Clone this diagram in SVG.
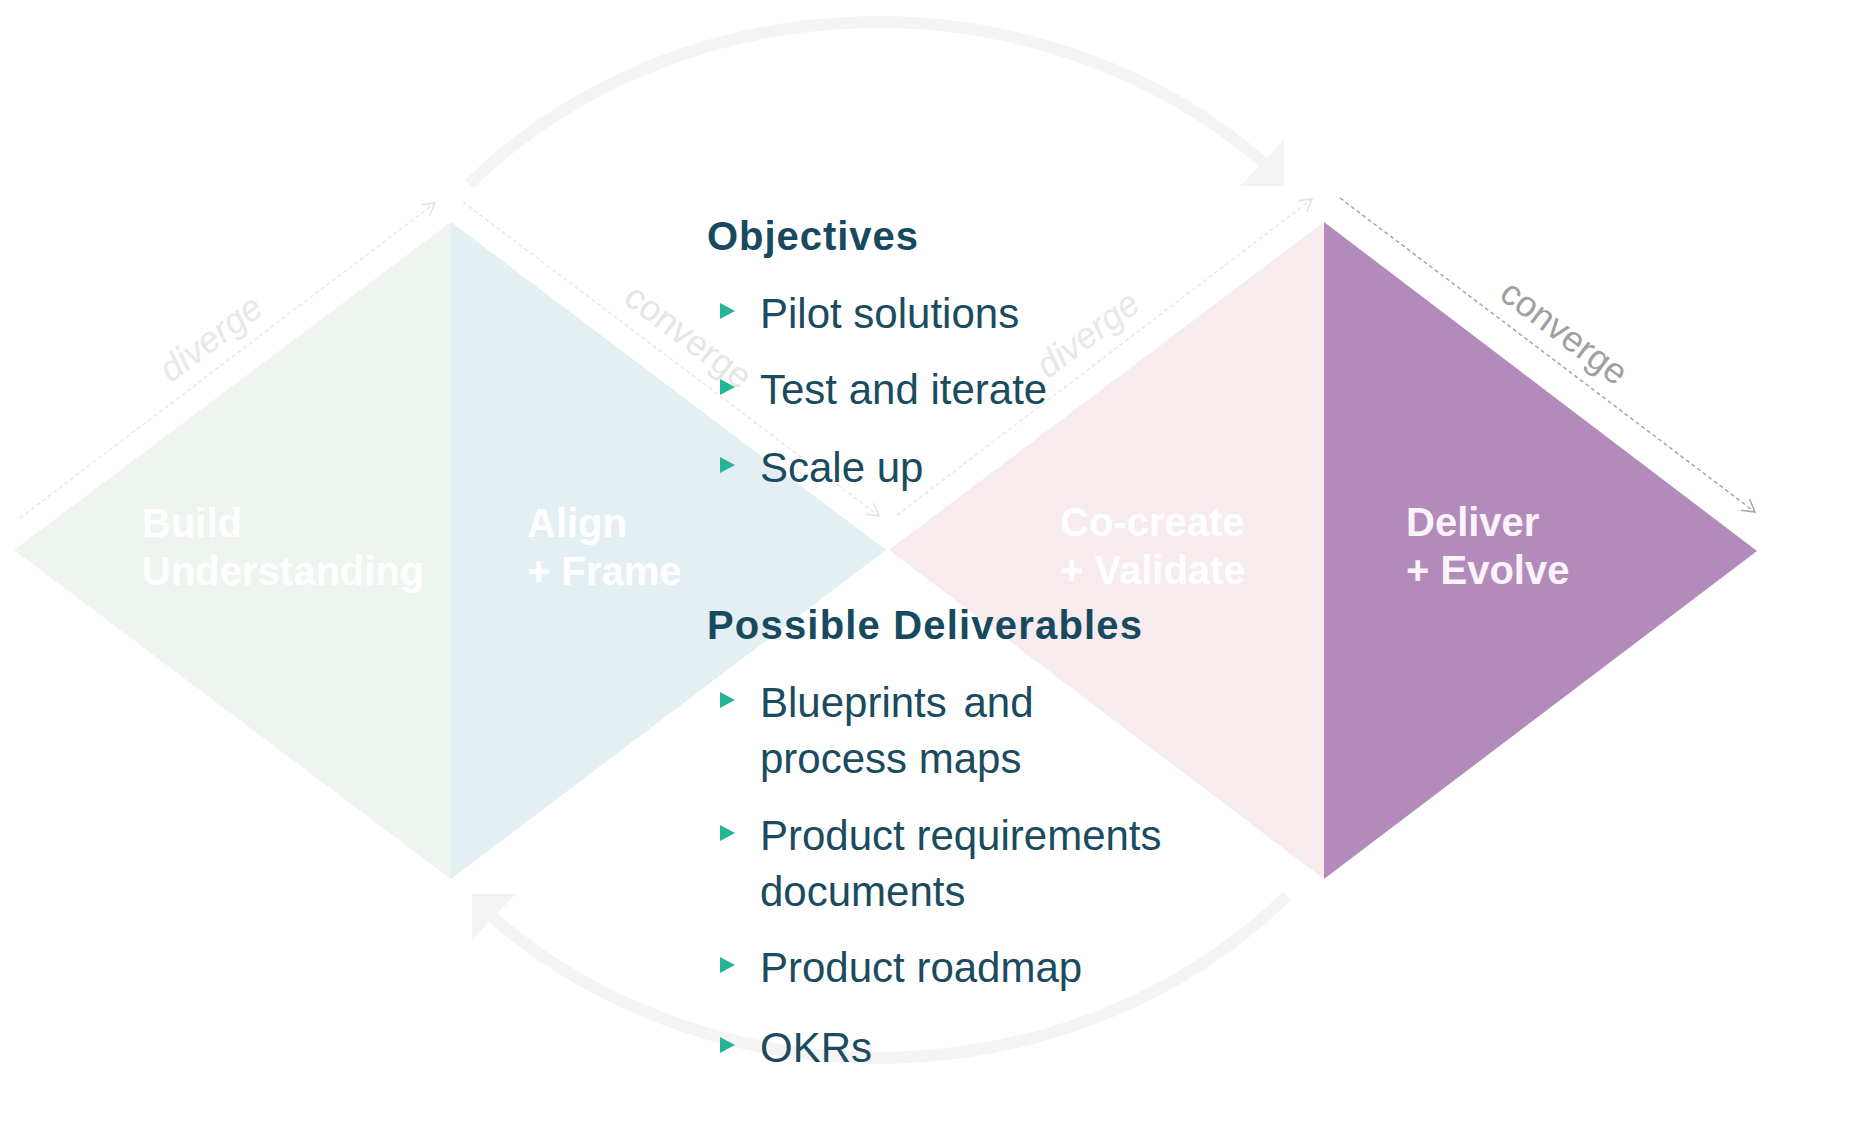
<svg xmlns="http://www.w3.org/2000/svg" width="1862" height="1130" viewBox="0 0 1862 1130">
  <defs>
    <style>
      .lbl { font-family: "Liberation Sans", Arial, Helvetica, sans-serif; font-weight: bold; font-size: 40px; }
      .body { font-family: "Liberation Sans", Arial, Helvetica, sans-serif; font-size: 42px; fill: #1A4B5F; }
      .head { font-family: "Liberation Sans", Arial, Helvetica, sans-serif; font-weight: bold; font-size: 40px; fill: #174A5E; }
      .edge { font-family: "Liberation Sans", Arial, Helvetica, sans-serif; font-size: 36px; }
      .bullet { fill: #24B597; }
      .dash-faint { fill: none; stroke: #E8E8E8; stroke-width: 1.5; stroke-dasharray: 4 3; }
      .dash-gray { fill: none; stroke: #A6A6A6; stroke-width: 1.5; stroke-dasharray: 4 3; }
      .arc { fill: none; stroke: #F4F4F4; stroke-width: 12; }
    </style>
    <marker id="chev-faint" viewBox="-14 -9 16 18" refX="0" refY="0" markerWidth="16" markerHeight="18" markerUnits="userSpaceOnUse" orient="auto">
      <path d="M -12 -7 L 0 0 L -12 7" fill="none" stroke="#E2E2E2" stroke-width="1.5"/>
    </marker>
    <marker id="chev-gray" viewBox="-14 -9 16 18" refX="0" refY="0" markerWidth="16" markerHeight="18" markerUnits="userSpaceOnUse" orient="auto">
      <path d="M -12 -7 L 0 0 L -12 7" fill="none" stroke="#A6A6A6" stroke-width="1.5"/>
    </marker>
  </defs>

  <rect width="1862" height="1130" fill="#FFFFFF"/>

  <g id="phase-build">
    <polygon points="14,550 451,222 451,879" fill="#EDF5EE"/>
    <text class="lbl" fill="#FFFFFF" x="142" y="537">Build</text>
    <text class="lbl" fill="#FFFFFF" x="142" y="585">Understanding</text>
  </g>

  <g id="phase-align">
    <polygon points="451,222 886,550 451,879" fill="#E4EFF4"/>
    <text class="lbl" fill="#FFFFFF" x="527" y="537">Align</text>
    <text class="lbl" fill="#FFFFFF" x="527" y="585">+ Frame</text>
  </g>

  <g id="phase-cocreate">
    <polygon points="889,550 1324,222 1324,879" fill="#F8EBED"/>
    <text class="lbl" fill="#FFFFFF" x="1060" y="536">Co-create</text>
    <text class="lbl" fill="#FFFFFF" x="1060" y="584">+ Validate</text>
  </g>

  <g id="phase-deliver">
    <polygon points="1324,222 1757,551 1324,879" fill="#B28BBB"/>
    <text class="lbl" fill="#FAF3FA" x="1406" y="536">Deliver</text>
    <text class="lbl" fill="#FAF3FA" x="1406" y="584">+ Evolve</text>
  </g>

  <g id="connectors">
    <g id="cycle-top">
      <path class="arc" d="M 469 184 A 563 518 0 0 1 1265.5 164.4"/>
      <polygon points="1284,140 1284,186 1240,186" fill="#F4F4F4"/>
    </g>
    <g id="cycle-bottom" transform="rotate(180 878 540)">
      <path class="arc" d="M 469 184 A 563 518 0 0 1 1265.5 164.4"/>
      <polygon points="1284,140 1284,186 1240,186" fill="#F4F4F4"/>
    </g>

    <line class="dash-faint" x1="20" y1="518" x2="435" y2="203" marker-end="url(#chev-faint)"/>
    <line class="dash-faint" x1="463" y1="202" x2="879" y2="516" marker-end="url(#chev-faint)"/>
    <line class="dash-faint" x1="897" y1="515" x2="1312" y2="199" marker-end="url(#chev-faint)"/>
    <line class="dash-gray" x1="1340" y1="198" x2="1755" y2="512" marker-end="url(#chev-gray)"/>

    <text class="edge" fill="#E8E8E8" font-style="italic" text-anchor="middle" transform="translate(218 348) rotate(-37)">diverge</text>
    <text class="edge" fill="#E6E6E6" text-anchor="middle" transform="translate(681 346) rotate(37)">converge</text>
    <text class="edge" fill="#E8E8E8" font-style="italic" text-anchor="middle" transform="translate(1095 344) rotate(-37)">diverge</text>
    <text class="edge" fill="#A0A0A0" text-anchor="middle" transform="translate(1557 342) rotate(37)">converge</text>
  </g>

  <g id="objectives">
    <text class="head" x="707" y="250" textLength="211" lengthAdjust="spacing">Objectives</text>
    <polygon class="bullet" points="720,303 720,319 735,311"/>
    <text class="body" x="760" y="328">Pilot solutions</text>
    <polygon class="bullet" points="720,379 720,395 735,387"/>
    <text class="body" x="760" y="404">Test and iterate</text>
    <polygon class="bullet" points="720,457 720,473 735,465"/>
    <text class="body" x="760" y="482">Scale up</text>
  </g>

  <g id="deliverables">
    <text class="head" x="707" y="639" textLength="435" lengthAdjust="spacing">Possible Deliverables</text>
    <polygon class="bullet" points="720,692 720,708 735,700"/>
    <text class="body" x="760" y="717" word-spacing="5">Blueprints and</text>
    <text class="body" x="760" y="773">process maps</text>
    <polygon class="bullet" points="720,825 720,841 735,833"/>
    <text class="body" x="760" y="850">Product requirements</text>
    <text class="body" x="760" y="906">documents</text>
    <polygon class="bullet" points="720,957 720,973 735,965"/>
    <text class="body" x="760" y="982">Product roadmap</text>
    <polygon class="bullet" points="720,1037 720,1053 735,1045"/>
    <text class="body" x="760" y="1062">OKRs</text>
  </g>
</svg>
